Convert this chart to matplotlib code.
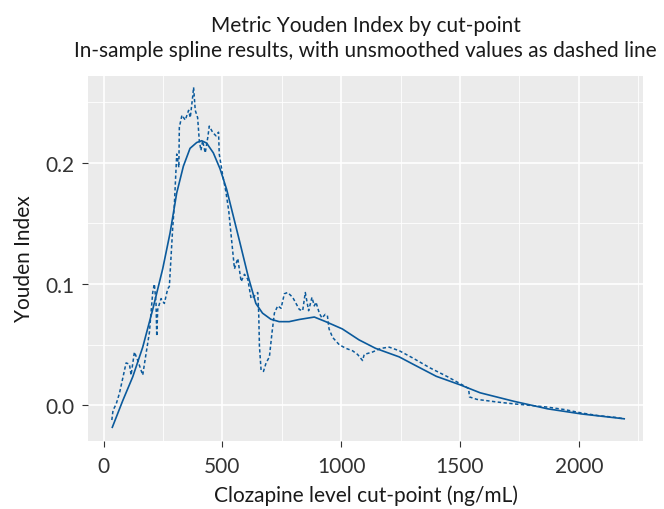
"""
Youden Index by clozapine cut-point: spline vs unsmoothed values.
"""

import matplotlib
matplotlib.use("Agg")
import matplotlib.pyplot as plt
from matplotlib.ticker import MultipleLocator

# smoothed spline values
spline_x = [37, 81, 123, 165, 207, 249, 280, 308, 336, 364, 392, 413, 434, 462,
            490, 518, 546, 574, 609, 641, 669, 704, 739, 781, 824, 887, 935,
            1005, 1075, 1145, 1244, 1302, 1400, 1500, 1585, 1727, 1869, 2011,
            2191]
spline_y = [-0.018, 0.004, 0.0236, 0.048, 0.079, 0.1125, 0.142, 0.175, 0.197,
            0.2117, 0.2165, 0.218, 0.216, 0.208, 0.195, 0.178, 0.156, 0.134,
            0.106, 0.084, 0.076, 0.071, 0.069, 0.069, 0.0708, 0.0728, 0.069,
            0.063, 0.054, 0.047, 0.040, 0.034, 0.024, 0.017, 0.0104, 0.0034,
            -0.0028, -0.0070, -0.011]

# raw (unsmoothed) values
raw_x = [35, 40, 53, 67, 95, 109, 116, 130, 144, 165, 172, 193, 207, 214, 221,
         224, 228, 242, 256, 270, 277, 291, 298, 308, 317, 319, 330, 344, 358,
         365, 375, 379, 386, 396, 403, 410, 417, 428, 439, 445, 459, 473, 484,
         487, 501, 515, 527, 537, 551, 565, 579, 593, 607, 621, 635, 649, 653,
         656, 663, 673, 684, 698, 709, 719, 733, 747, 761, 775, 796, 824, 838,
         849, 863, 877, 887, 894, 908, 919, 933, 942, 949, 964, 992, 1020, 1048,
         1069, 1090, 1097, 1132, 1167, 1202, 1245, 1302, 1373, 1444, 1500, 1536,
         1540, 1571, 1657, 1727, 1798, 1869, 1940, 2011, 2082, 2153, 2191]
raw_y = [-0.012, -0.004, 0.001, 0.010, 0.035, 0.034, 0.025, 0.044, 0.037, 0.025,
         0.034, 0.060, 0.093, 0.100, 0.084, 0.057, 0.079, 0.088, 0.084, 0.096,
         0.098, 0.146, 0.165, 0.207, 0.196, 0.229, 0.239, 0.235, 0.243, 0.237,
         0.254, 0.262, 0.243, 0.237, 0.218, 0.210, 0.218, 0.208, 0.221, 0.230,
         0.225, 0.222, 0.225, 0.207, 0.190, 0.176, 0.160, 0.140, 0.1125, 0.121,
         0.102, 0.108, 0.104, 0.088, 0.090, 0.093, 0.076, 0.049, 0.029, 0.028,
         0.035, 0.040, 0.060, 0.076, 0.082, 0.080, 0.092, 0.093, 0.089, 0.079,
         0.078, 0.093, 0.078, 0.089, 0.082, 0.085, 0.076, 0.072, 0.075, 0.074,
         0.063, 0.056, 0.050, 0.047, 0.045, 0.042, 0.037, 0.042, 0.044, 0.047,
         0.048, 0.045, 0.039, 0.031, 0.024, 0.018, 0.014, 0.007, 0.005, 0.0028,
         0.0013, 0.0, -0.0014, -0.0034, -0.0062, -0.0084, -0.0098, -0.011]

x_ticks = [0, 500, 1000, 1500, 2000]
y_ticks = [0.0, 0.1, 0.2]

line_color = "#0b5a9c"
text_color = "#333333"

plt.rcParams["font.family"] = ["Lato", "DejaVu Sans"]

fig = plt.figure(figsize=(6.64, 5.10), dpi=100)
ax = fig.add_axes([0.133, 0.134, 0.835, 0.716])
ax.set_facecolor("#ebebeb")

ax.plot(raw_x, raw_y, color=line_color, lw=1.1, linestyle=(0, (2.2, 1.6)))
ax.plot(spline_x, spline_y, color=line_color, lw=1.2)

ax.set_xlim(-64, 2269)
ax.set_ylim(-0.029, 0.2717)
ax.set_xticks(x_ticks)
ax.set_yticks(y_ticks)
ax.set_yticklabels([f"{v:.1f}" for v in y_ticks])
ax.xaxis.set_minor_locator(MultipleLocator(250))
ax.yaxis.set_minor_locator(MultipleLocator(0.05))

ax.grid(which="major", color="white", lw=1.2)
ax.grid(which="minor", color="white", lw=0.6)
ax.set_axisbelow(True)
for s in ax.spines.values():
    s.set_visible(False)
ax.tick_params(axis="x", which="major", length=4, width=0.8, color=text_color,
               labelsize=15, labelcolor=text_color, pad=7)
ax.tick_params(axis="y", which="major", length=4, width=0.8, color=text_color,
               labelsize=15, labelcolor=text_color, pad=6)
ax.tick_params(which="minor", length=0)

ax.set_xlabel("Clozapine level cut-point (ng/mL)", fontsize=15, labelpad=6,
              color="#1a1a1a")
ax.set_ylabel("Youden Index", fontsize=15, labelpad=8, color="#1a1a1a")

ax.set_title("Metric Youden Index by cut-point\n"
             "In-sample spline results, with unsmoothed values as dashed line",
             fontsize=15, linespacing=1.3, pad=14, color="#1a1a1a")

fig.savefig("out.png", dpi=100)
